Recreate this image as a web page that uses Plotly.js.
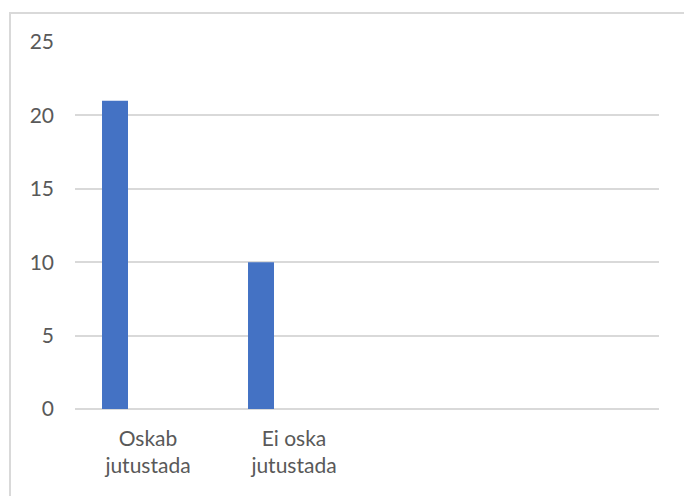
<!DOCTYPE html>
<html>
<head>
<meta charset="utf-8">
<script src="https://cdn.plot.ly/plotly-3.0.1.min.js"></script>
<style>
html,body{margin:0;padding:0;background:#fff;}
#wrap{position:relative;width:684px;height:496px;overflow:hidden;}
#chart{position:absolute;left:0;top:0;width:684px;height:496px;}
#frame{position:absolute;left:9px;top:12px;width:700px;height:520px;border:2px solid #d9d9d9;box-sizing:border-box;pointer-events:none;}
</style>
</head>
<body>
<div id="wrap"><div id="chart"></div><div id="frame"></div></div>
<script>
var categories = ["Oskab<br>jutustada", "Ei oska<br>jutustada"];
var values = [21, 10];
var slotCount = 4;
var yTicks = [0, 5, 10, 15, 20, 25];

var positions = categories.map(function(c, i){ return i; });

var trace = {
  type: 'bar',
  x: positions,
  y: values,
  width: 0.178,
  offset: -0.315,
  marker: {color: '#4472C4'},
  hoverinfo: 'y'
};

var layout = {
  width: 684, height: 496,
  margin: {l: 75, r: 25, t: 42, b: 87},
  paper_bgcolor: 'rgba(0,0,0,0)',
  plot_bgcolor: '#ffffff',
  showlegend: false,
  font: {family: 'Lato, "Open Sans", sans-serif', size: 21, color: '#595959'},
  xaxis: {
    range: [-0.5, slotCount - 0.5],
    tickvals: positions,
    ticktext: categories,
    showgrid: false,
    zeroline: false,
    showline: false,
    ticks: '',
    ticklabelstandoff: 15,
    tickfont: {size: 21, color: '#595959'}
  },
  yaxis: {
    range: [0, 25],
    tickvals: yTicks,
    showgrid: true,
    gridcolor: '#d9d9d9',
    gridwidth: 2,
    zeroline: true,
    zerolinecolor: '#d9d9d9',
    zerolinewidth: 2,
    showline: false,
    ticks: '',
    ticklabelstandoff: 20,
    tickfont: {size: 21, color: '#595959'}
  }
};

Plotly.newPlot('chart', [trace], layout, {displayModeBar: false, staticPlot: true});
</script>
</body>
</html>
